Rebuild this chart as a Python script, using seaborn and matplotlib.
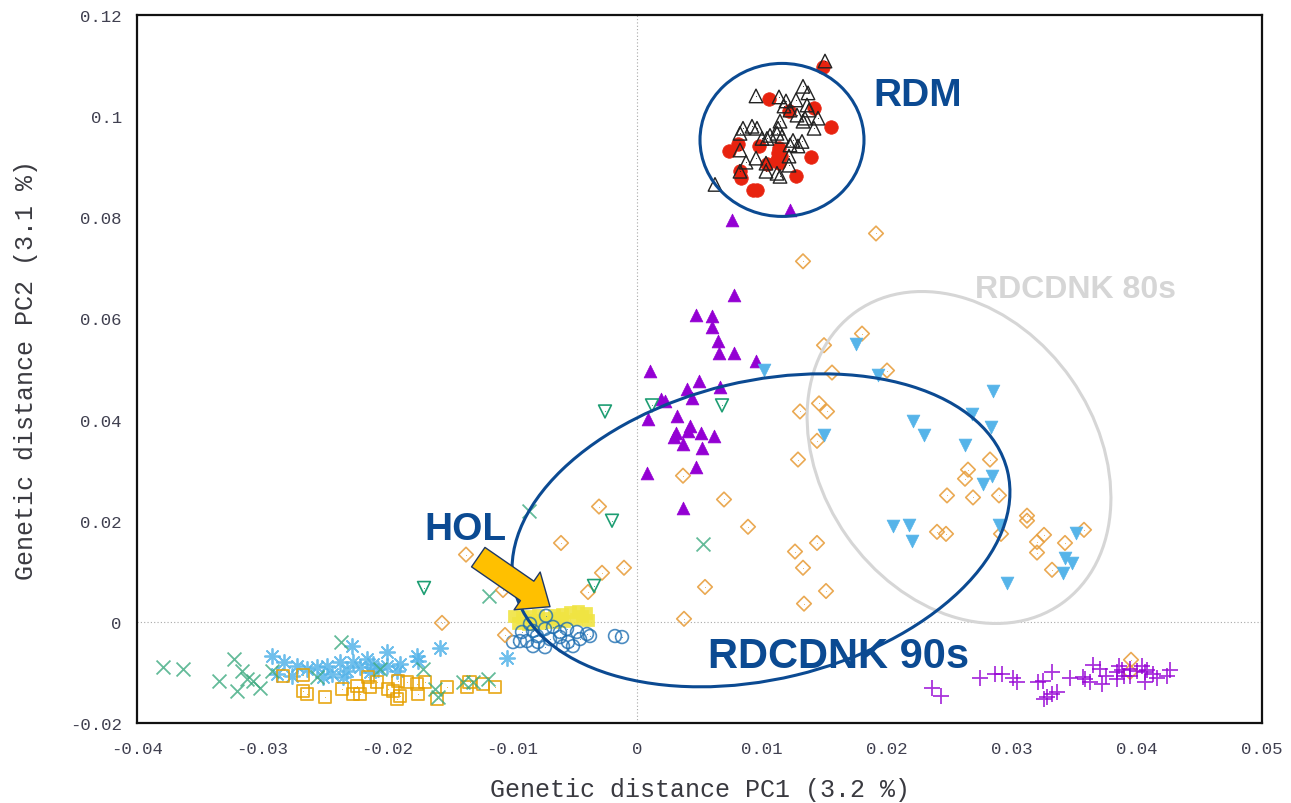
import matplotlib
matplotlib.use("Agg")
import matplotlib.pyplot as plt
import matplotlib.transforms as mtransforms
from matplotlib.patches import Ellipse
from matplotlib.ticker import FuncFormatter, MultipleLocator
import seaborn as sns

# ---- data (PC1, PC2) ----
# RDM open triangles
rdm_tri_x = [0.01504, 0.01328, 0.01368, 0.00952, 0.01136, 0.01272, 0.01192, 0.01176, 0.01360, 0.01376,
             0.01224, 0.01280, 0.01344, 0.01448, 0.01328, 0.01144, 0.01416, 0.00920, 0.00848, 0.00960,
             0.00824, 0.01128, 0.01120, 0.01064, 0.01160, 0.01000, 0.01040, 0.01248, 0.01320, 0.01224,
             0.01288, 0.00824, 0.01216, 0.00952, 0.00872, 0.01032, 0.01216, 0.00824, 0.01032, 0.01120,
             0.01144, 0.00624]
rdm_tri_y = [0.1109, 0.1059, 0.1046, 0.1040, 0.1038, 0.1032, 0.1030, 0.1020, 0.1022, 0.1012,
             0.1012, 0.1002, 0.0996, 0.0996, 0.0990, 0.0990, 0.0976, 0.0980, 0.0976, 0.0976,
             0.0966, 0.0976, 0.0966, 0.0962, 0.0960, 0.0956, 0.0956, 0.0952, 0.0950, 0.0943,
             0.0941, 0.0933, 0.0921, 0.0917, 0.0909, 0.0907, 0.0903, 0.0891, 0.0891, 0.0887,
             0.0881, 0.0865]
# RDM red dots
rdm_dot_x = [0.01488, 0.01056, 0.01216, 0.01416, 0.01552, 0.00808, 0.00736, 0.00976, 0.01136, 0.01152,
             0.01120, 0.01136, 0.01392, 0.01040, 0.00832, 0.01272, 0.00928, 0.00960, 0.00824, 0.01128]
rdm_dot_y = [0.1097, 0.1034, 0.1010, 0.1016, 0.0978, 0.0945, 0.0931, 0.0941, 0.0937, 0.0921,
             0.0913, 0.0907, 0.0919, 0.0905, 0.0877, 0.0881, 0.0853, 0.0853, 0.0891, 0.0927]
# purple filled triangles
pur_tri_x = [0.00776, 0.00472, 0.00600, 0.00600, 0.00648, 0.00656, 0.00776, 0.00952, 0.00104, 0.00496,
             0.00400, 0.00664, 0.00440, 0.00192, 0.00224, 0.00088, 0.00320, 0.00424, 0.00408, 0.00312,
             0.00296, 0.00512, 0.00616, 0.00368, 0.00520, 0.00472, 0.00080, 0.00368, 0.00760, 0.01224]
pur_tri_y = [0.0646, 0.0606, 0.0604, 0.0584, 0.0556, 0.0531, 0.0531, 0.0515, 0.0497, 0.0477,
             0.0461, 0.0465, 0.0442, 0.0440, 0.0436, 0.0402, 0.0408, 0.0388, 0.0378, 0.0374,
             0.0366, 0.0374, 0.0368, 0.0352, 0.0343, 0.0307, 0.0295, 0.0226, 0.0794, 0.0814]
# RDCDNK 80s: sky blue down triangles
sky_tri_x = [0.01752, 0.01928, 0.02848, 0.02680, 0.02832, 0.02208, 0.02296, 0.02624, 0.01496, 0.02840,
             0.02768, 0.02048, 0.02176, 0.02200, 0.02896, 0.03512, 0.03424, 0.03480, 0.03408, 0.02960,
             0.01016]
sky_tri_y = [0.0549, 0.0489, 0.0457, 0.0412, 0.0386, 0.0398, 0.0370, 0.0350, 0.0370, 0.0289,
             0.0273, 0.0190, 0.0192, 0.0160, 0.0192, 0.0176, 0.0127, 0.0117, 0.0097, 0.0077,
             0.0499]
# orange open diamonds
dia_x = [0.0180, 0.01496, 0.0200, 0.0156, 0.01456, 0.0152, 0.01304, 0.0144, 0.01288, 0.02824,
         0.02648, 0.02624, 0.0248, 0.02688, 0.02896, 0.0312, 0.0312, 0.0240, 0.02472, 0.02912,
         0.03256, 0.0320, 0.03424, 0.03576, 0.0320, 0.0332, 0.0144, 0.01264, 0.01328, 0.01512,
         0.01336, 0.01912, 0.01328, -0.00304, -0.00608, -0.01368, -0.0028, -0.00104, -0.00392, -0.01072,
         0.00368, 0.00696, 0.00888, 0.00544, 0.00376, -0.0156, -0.01056, 0.03952, 0.03944]
dia_y = [0.0570, 0.0547, 0.0497, 0.0493, 0.0432, 0.0416, 0.0416, 0.0358, 0.0321, 0.0321,
         0.0301, 0.0283, 0.0250, 0.0246, 0.0250, 0.0210, 0.0200, 0.0178, 0.0174, 0.0174,
         0.0172, 0.0158, 0.0156, 0.0182, 0.0137, 0.0103, 0.0156, 0.0139, 0.0107, 0.0061,
         0.0036, 0.0768, 0.0713, 0.0228, 0.0156, 0.0133, 0.0097, 0.0107, 0.0059, 0.0063,
         0.0289, 0.0242, 0.0188, 0.0069, 0.0006, -0.0002, -0.0026, -0.0075, -0.0099]
# green open down triangles
grn_tri_x = [-0.00256, 0.0012, 0.0068, -0.0020, -0.01704, -0.00344]
grn_tri_y = [0.0416, 0.0428, 0.0428, 0.0200, 0.0067, 0.0071]
# green crosses
grn_x_x = [-0.03792, -0.03632, -0.03224, -0.03344, -0.0316, -0.0312, -0.032, -0.03072, -0.03016, -0.02368,
           -0.0256, -0.01712, -0.01592, -0.01616, -0.01392, -0.01312, -0.01192, -0.00864, -0.01184, 0.00528,
           -0.0292, -0.02056]
grn_x_y = [-0.0089, -0.0093, -0.0073, -0.0117, -0.0097, -0.0113, -0.0137, -0.0117, -0.0131, -0.0040,
           -0.0109, -0.0093, -0.0149, -0.0133, -0.0119, -0.0119, -0.0113, 0.0220, 0.0051, 0.0154,
           -0.0097, -0.0093]
# sky blue asterisks
ast_x = [-0.0292, -0.02824, -0.0288, -0.0276, -0.0264, -0.0256, -0.0248, -0.0244, -0.02376, -0.0232,
         -0.0228, -0.02272, -0.02216, -0.0216, -0.02136, -0.02112, -0.02072, -0.0200, -0.0200, -0.0192,
         -0.01896, -0.0176, -0.01752, -0.01576, -0.0104, -0.02512, -0.02352, -0.0272]
ast_y = [-0.0067, -0.0079, -0.0103, -0.0107, -0.0093, -0.0089, -0.0087, -0.0103, -0.0079, -0.0097,
         -0.0048, -0.0079, -0.0089, -0.0073, -0.0099, -0.0083, -0.0093, -0.0059, -0.0087, -0.0097,
         -0.0083, -0.0067, -0.0077, -0.0051, -0.0071, -0.0109, -0.0109, -0.0087]
# orange open squares
sq_x = [-0.02832, -0.02672, -0.02672, -0.0264, -0.02496, -0.0236, -0.0224, -0.02216, -0.02152, -0.02136,
        -0.0208, -0.01992, -0.01912, -0.01896, -0.0184, -0.0176, -0.01752, -0.01696, -0.016, -0.0152,
        -0.0136, -0.0134, -0.01232, -0.01136, -0.01952, -0.0192, -0.02272]
sq_y = [-0.0107, -0.0105, -0.0137, -0.0143, -0.0149, -0.0133, -0.0127, -0.0143, -0.0109, -0.0129,
        -0.0119, -0.0133, -0.0117, -0.0147, -0.0119, -0.0123, -0.0143, -0.0119, -0.0152, -0.0129,
        -0.0129, -0.0119, -0.0123, -0.0129, -0.0137, -0.0152, -0.0143]
# HOL yellow filled squares
hol_x = [-0.00984, -0.0092, -0.00856, -0.00792, -0.00728, -0.00664, -0.006, -0.00536, -0.00472, -0.00408,
         -0.00952, -0.00872, -0.00776, -0.0068, -0.00584, -0.00488, -0.00392, -0.00824, -0.00632, -0.0044]
hol_y = [0.0012, 0.0010, 0.0012, 0.0014, 0.0008, 0.0014, 0.0016, 0.0020, 0.0022, 0.0018,
         -0.0002, -0.0004, -0.0002, 0.0, 0.0002, 0.0006, 0.0004, 0.0004, 0.0008, 0.0012]
# blue open circles
circ_x = [-0.00728, -0.00856, -0.0092, -0.00832, -0.00736, -0.00672, -0.0056, -0.0048, -0.0040, -0.00992,
          -0.0088, -0.00792, -0.00696, -0.00616, -0.00552, -0.00456, -0.00376, -0.00832, -0.00736, -0.00592,
          -0.00512, -0.00936, -0.00176, -0.0012, -0.008, -0.00616]
circ_y = [0.0012, -0.0004, -0.0020, -0.0018, -0.0014, -0.0010, -0.0014, -0.0020, -0.0024, -0.0040,
          -0.0038, -0.0040, -0.0034, -0.0030, -0.0040, -0.0034, -0.0028, -0.0048, -0.0050, -0.0048,
          -0.0048, -0.0038, -0.0028, -0.0030, -0.0028, -0.0020]
# purple plus
plus_x = [0.0236, 0.02432, 0.02744, 0.02864, 0.0292, 0.03008, 0.0304, 0.03208, 0.03248, 0.0332,
          0.0328, 0.03256, 0.0332, 0.0336, 0.03464, 0.03568, 0.03584, 0.03624, 0.03648, 0.03704,
          0.0372, 0.03752, 0.0384, 0.03856, 0.0388, 0.03896, 0.03944, 0.0400, 0.0404, 0.04064,
          0.0408, 0.04128, 0.04064, 0.0416, 0.0424, 0.04264, 0.03944, 0.0384]
plus_y = [-0.0131, -0.0147, -0.0111, -0.0103, -0.0103, -0.0111, -0.0119, -0.0119, -0.0117, -0.0099,
          -0.0149, -0.0152, -0.0143, -0.0139, -0.0111, -0.0109, -0.0113, -0.0119, -0.0085, -0.0093,
          -0.0123, -0.0107, -0.0099, -0.0087, -0.0095, -0.0107, -0.0093, -0.0097, -0.0087, -0.0099,
          -0.0095, -0.0103, -0.0119, -0.0111, -0.0107, -0.0095, -0.0107, -0.0113]

NAVY = "#0B4A92"
GREY = "#D6D6D6"

sns.set_style("white")
plt.rcParams["axes.unicode_minus"] = False
plt.rcParams["font.family"] = ["Liberation Mono", "DejaVu Sans Mono"]

fig = plt.figure(figsize=(12.91, 8.04), dpi=100)
ax = fig.add_axes([137 / 1291, 80 / 804, 1125 / 1291, 708 / 804])


def open_pts(x, y, marker, color, s, lw=1.0, alpha=1.0, z=3):
    sns.scatterplot(x=x, y=y, marker=marker, s=s, color=color, facecolor="none",
                    edgecolor=color, linewidth=lw, alpha=alpha, zorder=z, ax=ax)
    # gnuplot puts a dot in the middle of open symbols
    ax.scatter(x, y, marker=".", s=1.5, color=color, alpha=alpha, zorder=z, linewidths=0)


def line_pts(x, y, marker, color, s, lw=1.2, alpha=1.0, z=3):
    sns.scatterplot(x=x, y=y, marker=marker, s=s, color=color, edgecolor=color,
                    linewidth=lw, alpha=alpha, zorder=z, ax=ax)


def solid_pts(x, y, marker, color, s, alpha=1.0, z=3):
    sns.scatterplot(x=x, y=y, marker=marker, s=s, color=color, edgecolor=color,
                    linewidth=0.5, alpha=alpha, zorder=z, ax=ax)


line_pts(ast_x, ast_y, (8, 2, 0), "#56B4E9", 120, lw=1.3, alpha=0.85)
open_pts(sq_x, sq_y, "s", "#E69F00", 80, lw=1.3, alpha=0.85)
line_pts(grn_x_x, grn_x_y, "x", "#3DAA80", 100, lw=1.3, alpha=0.8)
solid_pts(hol_x, hol_y, "s", "#F0E442", 75, alpha=0.9)
open_pts(circ_x, circ_y, "o", "#1F6FB2", 85, lw=1.2, alpha=0.8)
open_pts(dia_x, dia_y, "D", "#E8A040", 55, lw=1.2, alpha=0.9)
solid_pts(pur_tri_x, pur_tri_y, "^", "#9400D3", 85)
solid_pts(sky_tri_x, sky_tri_y, "v", "#56B4E9", 85)
open_pts(grn_tri_x, grn_tri_y, "v", "#1E9E73", 85, lw=1.2)
line_pts(plus_x, plus_y, "+", "#9400D3", 130, lw=1.3, alpha=0.8)
solid_pts(rdm_dot_x, rdm_dot_y, "o", "#E8230F", 95)
open_pts(rdm_tri_x, rdm_tri_y, "^", "#222222", 95, lw=1.0)

# zero lines
ax.axhline(0, color="#A8A8A8", lw=0.8, ls=(0, (1, 2)), zorder=1)
ax.axvline(0, color="#A8A8A8", lw=0.8, ls=(0, (1, 2)), zorder=1)


# group outlines, sized in inches around a data centre
def outline(cx, cy, w, h, angle, color, lw):
    tr = fig.dpi_scale_trans + mtransforms.ScaledTranslation(cx, cy, ax.transData)
    ax.add_patch(Ellipse((0, 0), w, h, angle=angle, fill=False, edgecolor=color,
                         lw=lw, transform=tr, zorder=6))


outline(0.0116, 0.0953, 1.64, 1.53, 0, NAVY, 2.2)
outline(0.02576, 0.0325, 3.57, 2.74, -55, GREY, 2.2)
outline(0.00992, 0.0181, 5.07, 2.98, 13.5, NAVY, 2.2)

lab = dict(family=["Liberation Sans", "DejaVu Sans"], fontweight="bold", va="center", ha="left", zorder=8)
ax.text(0.01888, 0.1042, "RDM", color=NAVY, fontsize=28, **lab)
ax.text(0.02704, 0.0659, "RDCDNK 80s", color=GREY, fontsize=23, **lab)
ax.text(-0.01704, 0.0184, "HOL", color=NAVY, fontsize=28, **lab)
ax.text(0.00568, -0.0067, "RDCDNK 90s", color=NAVY, fontsize=30, **lab)

ax.annotate("", xy=(-0.00696, 0.0030), xytext=(-0.0127, 0.0128),
            arrowprops=dict(arrowstyle="simple,head_length=2.0,head_width=3.3,tail_width=1.7",
                            mutation_scale=10, fc="#FFC000", ec="#1F3864", lw=1.0,
                            shrinkA=0, shrinkB=0), zorder=7)

ax.set_xlim(-0.04, 0.05)
ax.set_ylim(-0.02, 0.12)
ax.xaxis.set_major_locator(MultipleLocator(0.01))
ax.yaxis.set_major_locator(MultipleLocator(0.02))
fmt = FuncFormatter(lambda v, p: "%g" % round(v, 4))
ax.xaxis.set_major_formatter(fmt)
ax.yaxis.set_major_formatter(fmt)
ax.tick_params(direction="in", length=9, width=1.2, colors="#111111", labelcolor="#404050",
               labelsize=12.5, top=False, right=False)
ax.tick_params(axis="x", pad=13)
ax.tick_params(axis="y", pad=11)
for sp in ax.spines.values():
    sp.set_color("#111111")
    sp.set_linewidth(1.6)

ax.set_xlabel("Genetic distance PC1 (3.2 %)", fontsize=18, color="#3A3A40", labelpad=15)
ax.set_ylabel("Genetic distance PC2 (3.1 %)", fontsize=18, color="#3A3A40", labelpad=23)

fig.savefig("out.png", dpi=100)
